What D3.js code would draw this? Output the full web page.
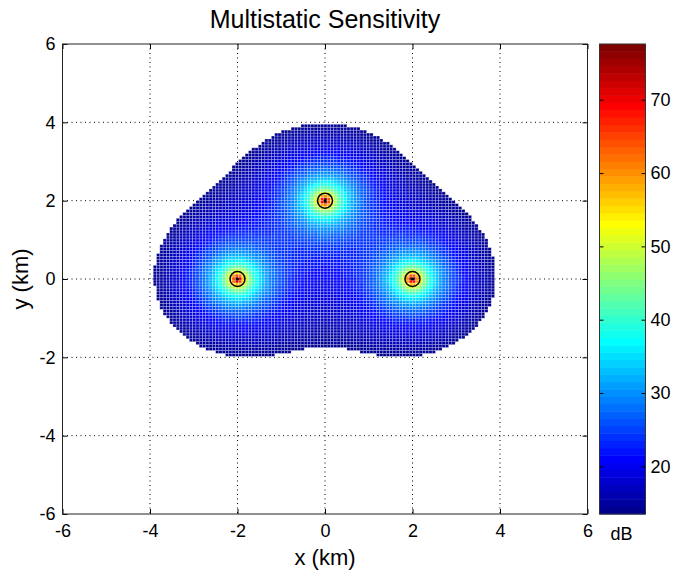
<!DOCTYPE html>
<html>
<head>
<meta charset="utf-8">
<script src="https://cdn.jsdelivr.net/npm/d3@7"></script>
<style>
  body { margin: 0; background: #fff; }
  text { font-family: "Liberation Sans", Arial, Helvetica, sans-serif; fill: #000; }
</style>
</head>
<body>
<svg id="chart" width="673" height="571"></svg>
<script>
// Sensor sites (km)
const sensorX = [-2, 0, 2];
const sensorY = [0, 2, 0];

// Axis and colorbar ticks
const xTicks = [-6, -4, -2, 0, 2, 4, 6];
const yTicks = [-6, -4, -2, 0, 2, 4, 6];
const colorTicks = [20, 30, 40, 50, 60, 70];
const colorLimits = [13.5, 77.6];   // dB

// Evaluation grid and sensitivity model
const gridStep = 0.075;             // km
const gridExtent = [-4, 4];         // km
const coverageThreshold = 0.357;    // sum of 1/R^2 at the edge of coverage
const refLevel = 23;                // dB offset

const width = 673, height = 571;
const margin = { top: 44, right: 85.5, bottom: 57, left: 62.5 };

const svg = d3.select('#chart');

const x = d3.scaleLinear().domain([-6, 6]).range([margin.left, width - margin.right]);
const y = d3.scaleLinear().domain([-6, 6]).range([height - margin.bottom, margin.top]);

// MATLAB style jet colormap
function jet(m) {
    const n = Math.ceil(m / 4);
    const u = [];
    for (let i = 1; i <= n; i++) u.push(i / n);
    for (let i = 1; i < n; i++) u.push(1);
    for (let i = n; i >= 1; i--) u.push(i / n);
    const g0 = Math.ceil(n / 2) - (m % 4 === 1 ? 1 : 0);
    const cmap = d3.range(m).map(() => [0, 0, 0]);
    u.forEach((v, k) => {
        const g = g0 + k + 1, r = g + n, b = g - n;
        if (g >= 1 && g <= m) cmap[g - 1][1] = v;
        if (r >= 1 && r <= m) cmap[r - 1][0] = v;
        if (b >= 1 && b <= m) cmap[b - 1][2] = v;
    });
    return cmap.map(c => d3.rgb(c[0] * 255, c[1] * 255, c[2] * 255).formatHex());
}
const jetColors = jet(64);
const color = d3.scaleQuantize().domain(colorLimits).range(jetColors);

// Sensitivity field: 20*log10(sum 1/R_i^2), kept only inside coverage
const cells = [];
const pts = d3.range(gridExtent[0] + gridStep / 2, gridExtent[1], gridStep);
pts.forEach(gx => {
    pts.forEach(gy => {
        let s = 0;
        sensorX.forEach((sx, i) => {
            const r2 = (gx - sx) ** 2 + (gy - sensorY[i]) ** 2;
            s += 1 / r2;
        });
        if (s >= coverageThreshold) {
            cells.push({ x: gx, y: gy, db: refLevel + 20 * Math.log10(s) });
        }
    });
});

// Grid lines (below the surface)
const grid = svg.append('g').attr('class', 'grid')
    .attr('stroke', '#000').attr('stroke-width', 1).attr('stroke-dasharray', '1,3.5');
grid.selectAll('line.gx').data(xTicks.slice(1, -1)).join('line')
    .attr('class', 'gx')
    .attr('x1', d => x(d)).attr('x2', d => x(d))
    .attr('y1', y(6)).attr('y2', y(-6));
grid.selectAll('line.gy').data(yTicks.slice(1, -1)).join('line')
    .attr('class', 'gy')
    .attr('x1', x(-6)).attr('x2', x(6))
    .attr('y1', d => y(d)).attr('y2', d => y(d));

// Surface cells
const cw = x(gridStep) - x(0);
const ch = y(0) - y(gridStep);
svg.append('g').attr('class', 'surface')
    .selectAll('rect').data(cells).join('rect')
    .attr('x', d => x(d.x - gridStep / 2))
    .attr('y', d => y(d.y + gridStep / 2))
    .attr('width', cw)
    .attr('height', ch)
    .attr('fill', d => color(d.db))
    .attr('stroke', '#fff')
    .attr('stroke-opacity', 0.35)
    .attr('stroke-width', 0.7);

// Sensor markers
const sensors = svg.append('g').attr('class', 'sensors');
sensors.selectAll('circle.ring').data(sensorX).join('circle')
    .attr('class', 'ring')
    .attr('cx', d => x(d)).attr('cy', (d, i) => y(sensorY[i]))
    .attr('r', 7.5)
    .attr('fill', 'none').attr('stroke', '#000').attr('stroke-width', 1.5);
sensors.selectAll('circle.dot').data(sensorX).join('circle')
    .attr('class', 'dot')
    .attr('cx', d => x(d)).attr('cy', (d, i) => y(sensorY[i]))
    .attr('r', 1.5).attr('fill', '#000');

// Axes with inward ticks on all four sides
const tickFmt = d => String(d);
const axisStyle = g => {
    g.select('.domain').remove();
    g.selectAll('.tick line').attr('stroke', '#000');
    g.selectAll('.tick text').attr('font-size', 18).attr('fill', '#000')
        .attr('font-family', '"Liberation Sans", Arial, sans-serif');
};
svg.append('g').attr('transform', `translate(0,${y(-6)})`)
    .call(d3.axisBottom(x).tickValues(xTicks).tickFormat(tickFmt).tickSizeInner(-5).tickSizeOuter(0).tickPadding(10))
    .call(axisStyle);
svg.append('g').attr('transform', `translate(${x(-6)},0)`)
    .call(d3.axisLeft(y).tickValues(yTicks).tickFormat(tickFmt).tickSizeInner(-5).tickSizeOuter(0).tickPadding(7))
    .call(axisStyle);
svg.append('g').attr('transform', `translate(0,${y(6)})`)
    .call(d3.axisTop(x).tickValues(xTicks).tickFormat('').tickSizeInner(-5).tickSizeOuter(0))
    .call(axisStyle);
svg.append('g').attr('transform', `translate(${x(6)},0)`)
    .call(d3.axisRight(y).tickValues(yTicks).tickFormat('').tickSizeInner(-5).tickSizeOuter(0))
    .call(axisStyle);

// Axes box
svg.append('rect')
    .attr('x', x(-6)).attr('y', y(6))
    .attr('width', x(6) - x(-6)).attr('height', y(-6) - y(6))
    .attr('fill', 'none').attr('stroke', '#222').attr('stroke-width', 1);

// Colorbar
const cbX = 599.5, cbW = 46;
const yc = d3.scaleLinear().domain(colorLimits).range([y(-6), y(6)]);
const bandStep = (colorLimits[1] - colorLimits[0]) / jetColors.length;
const cb = svg.append('g').attr('class', 'colorbar');
cb.selectAll('rect').data(jetColors).join('rect')
    .attr('x', cbX).attr('width', cbW)
    .attr('y', (c, i) => yc(colorLimits[0] + (i + 1) * bandStep))
    .attr('height', (c, i) => yc(colorLimits[0] + i * bandStep) - yc(colorLimits[0] + (i + 1) * bandStep) + 0.5)
    .attr('fill', c => c);
cb.append('g').attr('transform', `translate(${cbX + cbW},0)`)
    .call(d3.axisRight(yc).tickValues(colorTicks).tickFormat(tickFmt).tickSizeInner(-4).tickSizeOuter(0).tickPadding(5))
    .call(axisStyle);
cb.append('g').attr('transform', `translate(${cbX},0)`)
    .call(d3.axisLeft(yc).tickValues(colorTicks).tickFormat('').tickSizeInner(-4).tickSizeOuter(0))
    .call(axisStyle);
cb.append('rect')
    .attr('x', cbX).attr('y', yc(colorLimits[1]))
    .attr('width', cbW).attr('height', yc(colorLimits[0]) - yc(colorLimits[1]))
    .attr('fill', 'none').attr('stroke', '#333').attr('stroke-width', 1);
cb.append('text')
    .attr('x', cbX + cbW / 2 - 1).attr('y', 540)
    .attr('text-anchor', 'middle').attr('font-size', 18)
    .text('dB');

// Titles
svg.append('text')
    .attr('x', x(0)).attr('y', 28)
    .attr('text-anchor', 'middle').attr('font-size', 25)
    .text('Multistatic Sensitivity');
svg.append('text')
    .attr('x', x(0)).attr('y', 565)
    .attr('text-anchor', 'middle').attr('font-size', 22)
    .text('x (km)');
svg.append('text')
    .attr('transform', `translate(28,${y(0)}) rotate(-90)`)
    .attr('text-anchor', 'middle').attr('font-size', 22)
    .text('y (km)');
</script>
</body>
</html>
